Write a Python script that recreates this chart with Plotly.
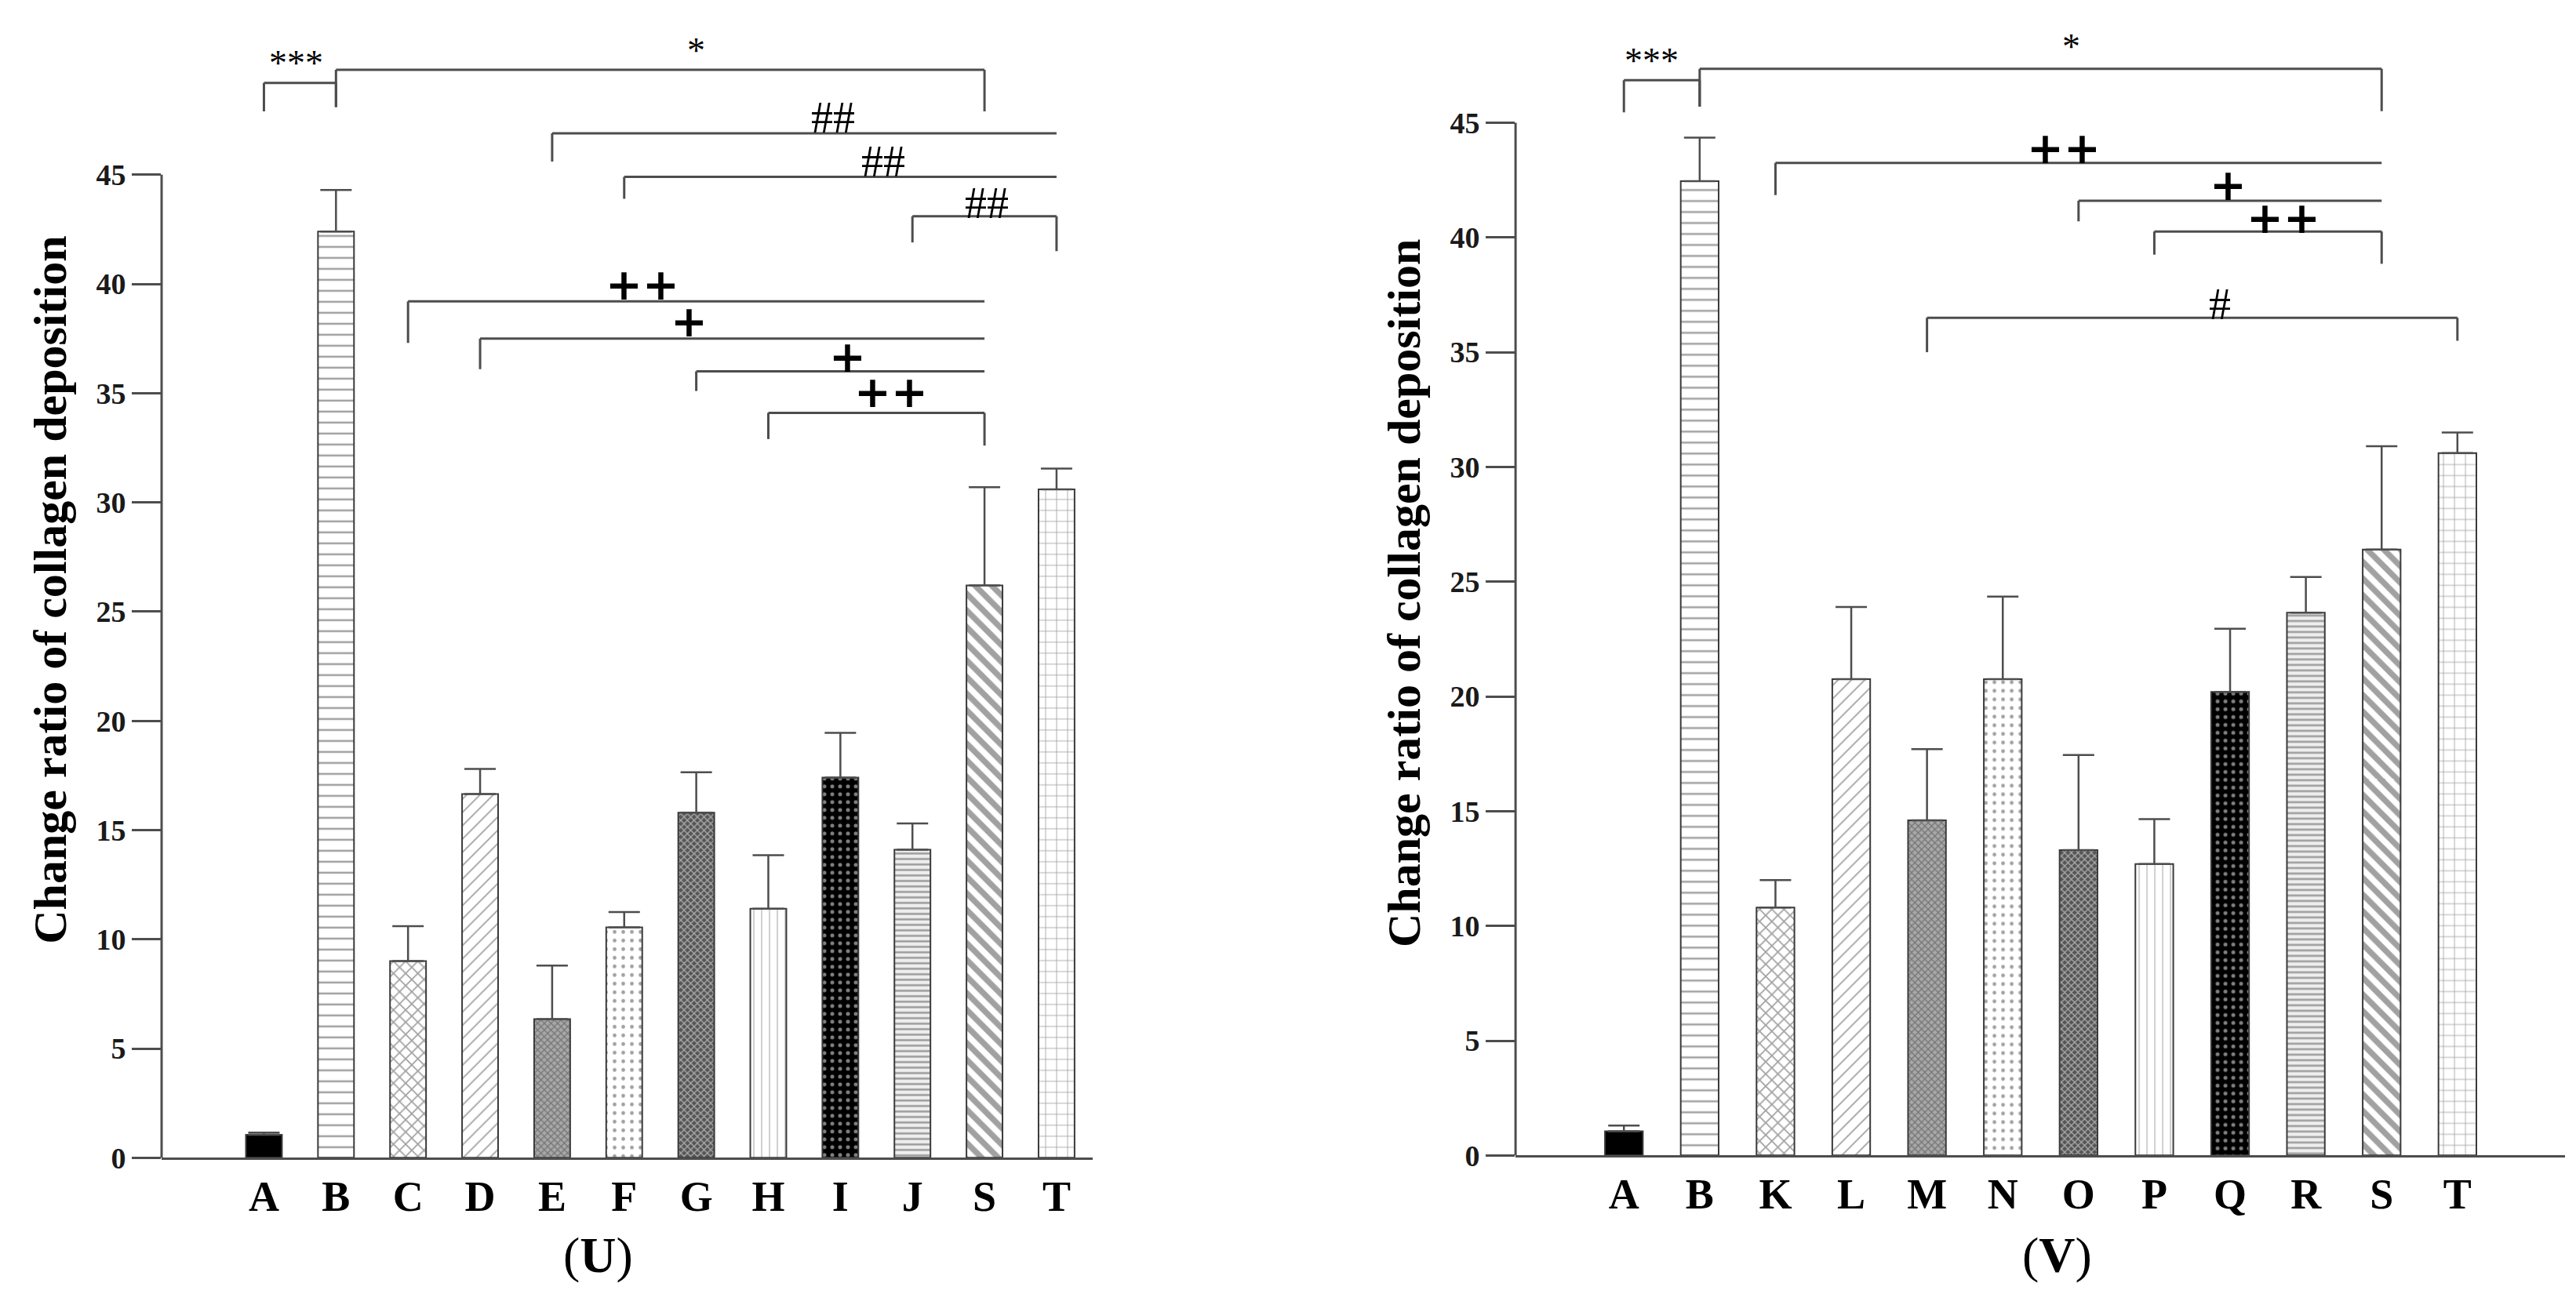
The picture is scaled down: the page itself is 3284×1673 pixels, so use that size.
import plotly.graph_objects as go

# panel U
u_groups = ["A", "B", "C", "D", "E", "F", "G", "H", "I", "J", "S", "T"]
u_means = [1.05, 42.4, 9.0, 16.65, 6.35, 10.55, 15.8, 11.4, 17.4, 14.1, 26.2, 30.6]
u_sd = [0.1, 1.9, 1.6, 1.15, 2.45, 0.7, 1.85, 2.45, 2.05, 1.2, 4.5, 0.95]

# panel V
v_groups = ["A", "B", "K", "L", "M", "N", "O", "P", "Q", "R", "S", "T"]
v_means = [1.05, 42.45, 10.8, 20.75, 14.6, 20.75, 13.3, 12.7, 20.2, 23.65, 26.4, 30.6]
v_sd = [0.25, 1.9, 1.2, 3.15, 3.1, 3.6, 4.15, 1.95, 2.75, 1.55, 4.5, 0.9]

y_ticks = [0, 5, 10, 15, 20, 25, 30, 35, 40, 45]

# bar fill patterns, same order in both panels
fill_bg = ["black", "white", "white", "white", "#a8a8a8", "white",
           "#555555", "white", "black", "#eeeeee", "white", "white"]
pat_shape = ["", "-", "x", "/", "x", ".", "x", "|", ".", "-", "\\", "+"]
pat_fg = ["black", "black", "black", "#333333", "#555555", "#666666",
          "#1a1a1a", "#555555", "white", "#777777", "black", "#aaaaaa"]
pat_size = [8, 14, 11, 12, 6, 11, 6, 10, 10, 7, 15, 14]
pat_solid = [0.3, 0.18, 0.3, 0.15, 0.4, 0.15, 0.4, 0.1, 0.2, 0.35, 0.5, 0.12]

# significance brackets: (left, right, y, left drop, right drop, label, label x, label y)
u_brackets = [
    (0, 1, 49.2, 47.9, 48.1, "***", 0.45, 50.1),
    (1, 10, 49.8, 48.1, 47.9, "*", 6.0, 50.7),
    (4, 11, 46.9, 45.6, 46.9, "##", 7.9, 47.6),
    (5, 11, 44.9, 43.9, 44.9, "##", 8.6, 45.6),
    (9, 11, 43.1, 41.9, 41.5, "##", 10.03, 43.7),
    (2, 10, 39.2, 37.3, 39.2, "++", 5.25, 40.0),
    (3, 10, 37.5, 36.1, 37.5, "+", 5.9, 38.3),
    (6, 10, 36.0, 35.1, 36.0, "+", 8.1, 36.7),
    (7, 10, 34.1, 32.9, 32.6, "++", 8.7, 35.05),
]
v_brackets = [
    (0, 1, 46.85, 45.45, 45.7, "***", 0.36, 47.7),
    (1, 10, 47.35, 45.7, 45.5, "*", 5.9, 48.3),
    (2, 10, 43.25, 41.85, 43.25, "++", 5.8, 43.9),
    (6, 10, 41.6, 40.7, 41.6, "+", 7.97, 42.3),
    (7, 10, 40.26, 39.25, 38.85, "++", 8.7, 40.85),
    (4, 11, 36.5, 35.0, 35.5, "#", 7.87, 37.1),
]

serif = "Liberation Serif"
grey = "#4d4d4d"

fig = go.Figure()


def add_panel(groups, means, sd, xa, ya):
    fig.add_trace(go.Bar(
        x=groups, y=means, width=0.5, xaxis=xa, yaxis=ya,
        marker=dict(
            color=fill_bg,
            line=dict(color="#3a3a3a", width=2),
            pattern=dict(shape=pat_shape, fgcolor=pat_fg, size=pat_size,
                         solidity=pat_solid, fillmode="overlay"),
        ),
        error_y=dict(type="data", symmetric=False, array=sd,
                     arrayminus=[0] * len(sd), color=grey, thickness=2.5, width=20),
        showlegend=False,
    ))


add_panel(u_groups, u_means, u_sd, "x", "y")
add_panel(v_groups, v_means, v_sd, "x2", "y2")


def add_brackets(brackets, xr, yr, label_size):
    for x0, x1, yb, d0, d1, lab, lx, ly in brackets:
        line = dict(color=grey, width=3)
        fig.add_shape(type="line", xref=xr, yref=yr, x0=x0, x1=x1, y0=yb, y1=yb, line=line)
        fig.add_shape(type="line", xref=xr, yref=yr, x0=x0, x1=x0, y0=yb, y1=d0, line=line)
        fig.add_shape(type="line", xref=xr, yref=yr, x0=x1, x1=x1, y0=yb, y1=d1, line=line)
        if "+" in lab:
            f = dict(family="DejaVu Sans", size=label_size["+"], color="black")
            txt = "<b>" + lab + "</b>"
        else:
            f = dict(family=serif, size=label_size[lab[0]], color="black")
            txt = lab
        fig.add_annotation(x=lx, y=ly, xref=xr, yref=yr, text=txt, showarrow=False,
                           font=f, xanchor="center", yanchor="middle")


sizes = {"+": 56, "#": 56, "*": 46}
add_brackets(u_brackets, "x", "y", sizes)
add_brackets(v_brackets, "x2", "y2", sizes)

# y axis lines only cover 0-45
for xr, yr in (("x domain", "y"), ("x2 domain", "y2")):
    fig.add_shape(type="line", xref=xr, yref=yr, x0=0, x1=0, y0=0, y1=45,
                  line=dict(color=grey, width=3))

xcommon = dict(type="category", showline=True, linecolor=grey, linewidth=3,
               ticks="", showgrid=False, zeroline=False,
               tickfont=dict(family=serif, size=54, color="black", weight="bold"))
ycommon = dict(showline=False, showgrid=False, zeroline=False, ticks="outside",
               ticklen=37, tickwidth=3, tickcolor=grey, tickvals=y_ticks,
               tickfont=dict(family=serif, size=38, color="#1a1a1a", weight="bold"),
               title=dict(text="Change ratio of collagen deposition",
                          font=dict(family=serif, size=60, color="black", weight="bold"),
                          standoff=18))

fig.update_layout(
    width=3284, height=1673,
    margin=dict(l=0, r=0, t=0, b=0),
    paper_bgcolor="white", plot_bgcolor="white",
    xaxis=dict(xcommon, domain=[0.0603, 0.4217], range=[-1.42, 11.5], anchor="y"),
    yaxis=dict(ycommon, domain=[0.1112, 0.988], range=[0, 52], anchor="x"),
    xaxis2=dict(xcommon, domain=[0.5859, 0.9933], range=[-1.43, 12.42], anchor="y2"),
    yaxis2=dict(ycommon, domain=[0.1130, 0.981], range=[0, 49], anchor="x2"),
)

for px, txt in ((0.2296, "(<b>U</b>)"), (0.7960, "(<b>V</b>)")):
    fig.add_annotation(x=px, y=0.036, xref="paper", yref="paper", text=txt,
                       showarrow=False, font=dict(family=serif, size=64, color="black"),
                       xanchor="center", yanchor="middle")

fig.write_html("out.html")
